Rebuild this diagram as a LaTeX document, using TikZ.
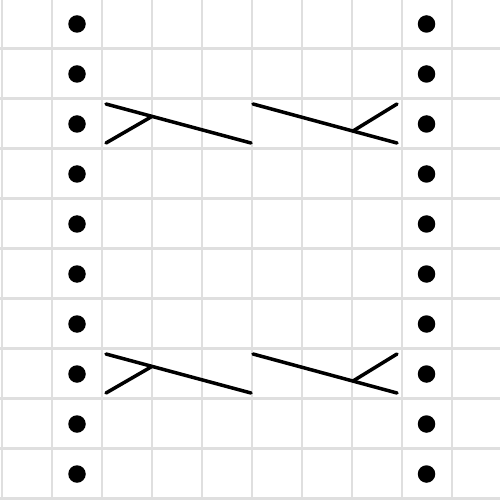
\documentclass[tikz,border=0pt]{standalone}
\begin{document}
\begin{tikzpicture}[stitch style/.style={circle, fill=black, inner sep=0pt, minimum size=0.35cm}, cable style/.style={line width=2pt, line cap=round}, grid style/.style={line width=1.3pt, gray!25}]
	\useasboundingbox (0,0) rectangle (10,-10);
	\foreach \k in {0,...,9} {
		\draw[grid style] (0.04+\k, 0) -- (0.04+\k, -10);
		\draw[grid style] (0, -0.97-\k) -- (10, -0.97-\k);
	}
	\foreach \k in {0,...,9} {
		\node[stitch style] (L\k) at (1.54, -0.48-\k) {};
		\node[stitch style] (R\k) at (8.53, -0.48-\k) {};
	}
	\foreach \s/\n in {0/A, 5/B} {
		\coordinate (\n1) at (2.12, -2.08-\s);
		\coordinate (\n2) at (5.02, -2.86-\s);
		\coordinate (\n3) at (2.12, -2.86-\s);
		\coordinate (\n4) at (3.02, -2.34-\s);
		\coordinate (\n5) at (5.06, -2.08-\s);
		\coordinate (\n6) at (7.94, -2.86-\s);
		\coordinate (\n7) at (7.94, -2.08-\s);
		\coordinate (\n8) at (7.06, -2.62-\s);
		\draw[cable style] (\n1) -- (\n2);
		\draw[cable style] (\n3) -- (\n4);
		\draw[cable style] (\n5) -- (\n6);
		\draw[cable style] (\n7) -- (\n8);
	}
\end{tikzpicture}
\end{document}
